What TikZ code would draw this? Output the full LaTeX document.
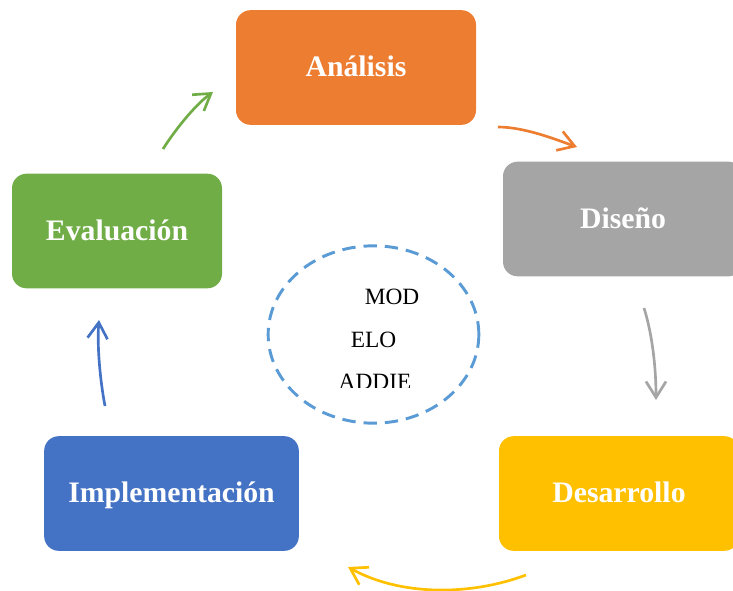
\documentclass[tikz,border=0pt]{standalone}
\usepackage{fontspec}
\setmainfont{Liberation Serif}
\usetikzlibrary{arrows.meta,shapes.geometric}
\definecolor{naranja}{HTML}{ED7D31}
\definecolor{gris}{HTML}{A5A5A5}
\definecolor{oro}{HTML}{FFC000}
\definecolor{azul}{HTML}{4472C4}
\definecolor{verde}{HTML}{70AD47}
\definecolor{celeste}{HTML}{5B9BD5}

\begin{document}
\begin{tikzpicture}[x=0.75pt,y=-0.75pt,
    fase/.style={rounded corners=11pt, minimum width=180pt, minimum height=86pt,
        text height=17pt, text depth=3pt,
        text=white, font=\fontsize{22.3}{27}\selectfont\bfseries},
    flecha/.style={line width=2pt, -{Straight Barb[length=12pt,width=15pt]}},
    centro/.style={anchor=base, inner sep=0pt, font=\fontsize{17.5}{21}\selectfont}]
    \useasboundingbox (0,0) rectangle (733,590);

    % las cinco fases
    \node[fase, fill=naranja] (analisis) at (356,67.5) {Análisis};
    \node[fase, fill=gris] (diseno) at (623,219) {Diseño};
    \node[fase, fill=oro] (desarrollo) at (619,493.5) {Desarrollo};
    \node[fase, fill=azul, minimum width=191pt] (implementacion) at (171.5,493.5) {Implementación};
    \node[fase, fill=verde, minimum width=157.5pt] (evaluacion) at (117,231) {Evaluación};

    % modelo en el centro
    \node[draw=celeste, ellipse, dash pattern=on 10pt off 6pt, line width=2.2pt,
        minimum width=158pt, minimum height=133pt] (modelo) at (373.5,334.5) {};
    \begin{scope}
        \clip (250,240) rectangle (500,387);
        \node[centro] (mod) at (392,304) {MOD};
        \node[centro] (elo) at (373.5,347) {ELO};
        \node[centro] (addie) at (375,389) {ADDIE};
    \end{scope}

    % extremos de las flechas
    \coordinate (a1) at (498,127);  \coordinate (a2) at (577,147);
    \coordinate (d1) at (644,308);  \coordinate (d2) at (656,400);
    \coordinate (r1) at (526,575);  \coordinate (r2) at (348,567);
    \coordinate (i1) at (105,406);  \coordinate (i2) at (99,320);
    \coordinate (e1) at (163,149);  \coordinate (e2) at (213,92);

    \draw[flecha, naranja] (a1) .. controls (525,127) and (557,140) .. (a2);
    \draw[flecha, gris] (d1) .. controls (651,330) and (656,362) .. (d2);
    \draw[flecha, oro] (r1) .. controls (470,596) and (400,596) .. (r2);
    \draw[flecha, azul] (i1) .. controls (100,380) and (97,345) .. (i2);
    \draw[flecha, verde] (e1) .. controls (175,130) and (195,105) .. (e2);
\end{tikzpicture}
\end{document}
